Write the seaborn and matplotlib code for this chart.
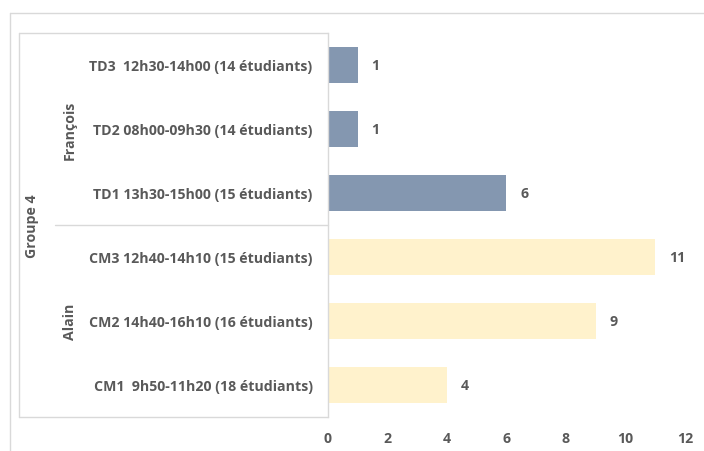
import matplotlib
matplotlib.use("Agg")
import matplotlib.pyplot as plt
import seaborn as sns
import pandas as pd
from matplotlib.lines import Line2D

sessions = [
    "TD3  12h30-14h00 (14 étudiants)",
    "TD2 08h00-09h30 (14 étudiants)",
    "TD1 13h30-15h00 (15 étudiants)",
    "CM3 12h40-14h10 (15 étudiants)",
    "CM2 14h40-16h10 (16 étudiants)",
    "CM1  9h50-11h20 (18 étudiants)",
]
counts = [1, 1, 6, 11, 9, 4]
teachers = ["François", "François", "François", "Alain", "Alain", "Alain"]
group_label = "Groupe 4"
x_ticks = [0, 2, 4, 6, 8, 10, 12]

colors = {"François": "#8497B0", "Alain": "#FFF2CC"}
txt = "#595959"
grid = "#D9D9D9"

sns.set_theme(style="white")
plt.rcParams["font.family"] = ["Open Sans", "DejaVu Sans"]
plt.rcParams["font.weight"] = "bold"
FS = 10.2

df = pd.DataFrame({"session": sessions, "count": counts, "teacher": teachers})

W, H = 704, 452
fig = plt.figure(figsize=(W / 100, H / 100), dpi=100)
ax = fig.add_axes([328 / W, (H - 418) / H, (685 - 328) / W, 384 / H])

sns.barplot(data=df, y="session", x="count", hue="teacher", palette=colors,
            orient="h", dodge=False, width=0.56, legend=False, ax=ax,
            edgecolor="none", saturation=1)
ax.set_xlim(0, 12)
ax.set_ylim(5.5, -0.5)
ax.set_xticks(x_ticks)
ax.set_xlabel("")
ax.set_ylabel("")
ax.tick_params(axis="both", length=0, labelsize=FS, colors=txt)
ax.tick_params(axis="y", pad=11)
ax.tick_params(axis="x", pad=10)
for lab in ax.get_yticklabels() + ax.get_xticklabels():
    lab.set_fontweight("bold")
for s in ["top", "right", "bottom"]:
    ax.spines[s].set_visible(False)
ax.spines["left"].set_color(grid)
ax.spines["left"].set_linewidth(1)

for cont in ax.containers:
    ax.bar_label(cont, padding=10, color=txt, fontsize=FS, fontweight="bold")

def fx(px):
    return px / W

def fy(py):
    return 1 - py / H

lines = [
    ((10, 704), (14, 14)),
    ((10, 10), (14, 452)),
    ((19, 328), (34, 34)),
    ((19, 328), (418, 418)),
    ((19, 19), (34, 418)),
    ((55, 328), (226, 226)),
]
for (x0, x1), (y0, y1) in lines:
    fig.add_artist(Line2D([fx(x0), fx(x1)], [fy(y0), fy(y1)], color=grid, lw=1))

fig.text(fx(32), fy(226), group_label, rotation=90, ha="center", va="center",
         color=txt, fontsize=FS, fontweight="bold")
fig.text(fx(70), fy(130), "François", rotation=90, ha="center", va="center",
         color=txt, fontsize=FS, fontweight="bold")
fig.text(fx(70), fy(322), "Alain", rotation=90, ha="center", va="center",
         color=txt, fontsize=FS, fontweight="bold")

fig.savefig("out.png", dpi=100)
